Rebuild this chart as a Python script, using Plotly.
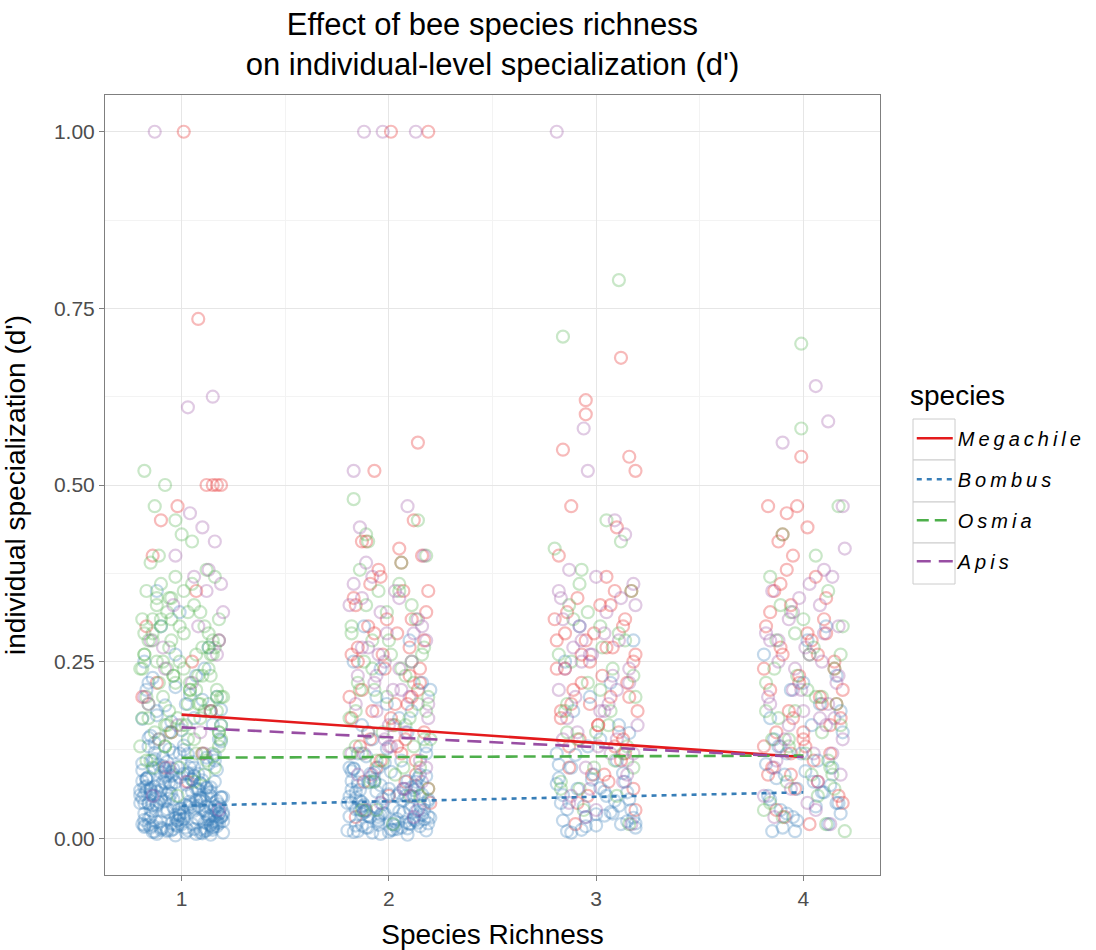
import plotly.graph_objects as go

# ---- jittered observations (x = jittered species richness, y = d') ----
# Megachile
meg_x = [1.01, 1.08, 1.12, 1.15, 1.17, 1.19, 0.98, 0.9, 0.83, 1.05, 0.88, 1.14, 0.95, 1.1, 0.81, 1.18, 0.92, 1.07, 0.86, 1.03,
         2.01, 2.19, 1.93, 2.14, 2.12, 1.87, 2.16, 1.95, 2.07, 1.83, 2.18, 1.9, 2.04, 2.1, 1.85, 1.98, 2.15, 1.81, 2.09, 1.92,
         2.02, 2.17, 1.86, 2.06, 1.94, 2.13, 1.88, 2.0, 2.2, 1.84, 2.05, 1.91, 2.11, 1.97, 2.14, 1.82, 2.08, 1.96, 2.19, 1.89,
         1.96, 2.1, 1.84, 2.03, 2.17, 1.91, 2.06, 1.82, 2.13, 1.99, 1.87, 2.19, 2.01, 1.93, 2.08, 2.15, 1.89, 2.04, 1.85, 2.11,
         3.12, 2.95, 2.95, 2.84, 3.16, 3.19, 2.88, 3.1, 2.82, 3.05, 3.17, 2.91, 2.86, 3.13, 2.99, 2.81, 3.08, 2.93, 3.18, 2.85,
         3.03, 3.15, 2.89, 3.07, 2.97, 3.2, 2.83, 3.01, 3.11, 2.92, 3.14, 2.87, 3.06, 2.96, 3.19, 2.9, 3.02, 2.8, 3.09, 2.98,
         3.05, 2.87, 3.14, 2.93, 3.18, 2.83, 3.09, 2.97, 3.12, 2.85, 3.01, 3.16, 2.91, 3.07, 2.81, 3.13, 2.95, 3.04, 2.88, 3.19,
         3.99, 3.83, 3.97, 3.92, 4.02, 3.88, 3.95, 4.06, 3.86, 3.94, 4.1, 3.82, 4.04, 3.9, 4.15, 3.98, 3.84, 4.08, 3.93, 4.18,
         3.87, 4.01, 4.13, 3.85, 4.07, 3.96, 4.19, 3.91, 4.03, 3.89, 4.11, 3.81, 4.16, 4.0, 3.94,
         4.05, 3.89, 4.13, 3.84, 3.98, 4.17, 3.92, 4.09, 3.81, 4.02, 4.15, 3.87, 3.95, 4.11, 3.83, 4.07, 4.19, 3.9, 4.0, 3.94]
meg_y = [1.0, 0.735, 0.5, 0.5, 0.5, 0.5, 0.47, 0.45, 0.3, 0.25, 0.22, 0.18, 0.15, 0.12, 0.2, 0.28, 0.1, 0.35, 0.4, 0.08,
         1.0, 1.0, 0.52, 0.56, 0.45, 0.42, 0.4, 0.38, 0.35, 0.34, 0.32, 0.3, 0.29, 0.27, 0.25, 0.24, 0.22, 0.2, 0.19, 0.18,
         0.16, 0.15, 0.13, 0.12, 0.1, 0.09, 0.08, 0.06, 0.05, 0.03, 0.41, 0.36, 0.31, 0.26, 0.21, 0.17, 0.14, 0.11, 0.07, 0.04,
         0.37, 0.23, 0.33, 0.19, 0.28, 0.14, 0.39, 0.26, 0.11, 0.31, 0.21, 0.35, 0.17, 0.29, 0.08, 0.24, 0.42, 0.13, 0.27, 0.2,
         0.68, 0.62, 0.6, 0.55, 0.54, 0.52, 0.47, 0.44, 0.4, 0.37, 0.35, 0.34, 0.32, 0.3, 0.29, 0.28, 0.27, 0.26, 0.25, 0.24,
         0.23, 0.22, 0.21, 0.2, 0.19, 0.18, 0.17, 0.16, 0.15, 0.14, 0.12, 0.1, 0.08, 0.06, 0.04, 0.02, 0.33, 0.31, 0.13, 0.09,
         0.27, 0.13, 0.31, 0.22, 0.07, 0.18, 0.35, 0.25, 0.11, 0.29, 0.16, 0.2, 0.05, 0.33, 0.24, 0.14, 0.28, 0.09, 0.19, 0.26,
         0.54, 0.47, 0.47, 0.46, 0.44, 0.42, 0.4, 0.37, 0.35, 0.33, 0.31, 0.3, 0.28, 0.26, 0.25, 0.23, 0.21, 0.2, 0.18, 0.17,
         0.15, 0.13, 0.12, 0.1, 0.08, 0.07, 0.05, 0.03, 0.02, 0.36, 0.29, 0.24, 0.19, 0.14, 0.09,
         0.11, 0.27, 0.16, 0.32, 0.22, 0.06, 0.38, 0.19, 0.13, 0.29, 0.24, 0.04, 0.17, 0.34, 0.09, 0.26, 0.21, 0.43, 0.15, 0.12]

# Bombus
bom_x = [0.93, 1.05, 0.85, 1.15, 0.98, 1.1, 0.82, 1.18, 0.9, 1.02, 1.12, 0.87, 0.96, 1.19, 0.81, 1.07, 0.94, 1.14, 0.84, 1.0,
         0.89, 1.16, 1.03, 0.83, 1.11, 0.97, 0.88, 1.2, 0.92, 1.06, 0.86, 1.13, 0.99, 1.17, 0.91, 1.04, 0.8, 1.09, 0.95, 1.15,
         1.01, 0.84, 1.18, 0.9, 1.08, 0.96, 0.82, 1.12, 1.03, 0.87, 0.94, 1.19, 0.85, 1.06, 1.14, 0.99, 0.81, 1.1, 0.92, 1.16,
         0.88, 1.02, 1.17, 0.83, 0.95, 1.09, 1.2, 0.86, 1.05, 0.93, 0.84, 1.11, 0.97, 1.18, 0.9, 1.07, 0.82, 1.13, 0.99, 0.88,
         1.0, 0.85, 1.14, 0.91, 1.04, 1.19, 0.8, 1.08, 0.96, 1.16,
         1.07, 0.84, 1.16, 0.95, 1.02, 0.88, 1.19, 0.91, 1.11, 0.82, 0.99, 1.14, 0.86, 1.05, 0.93, 1.17, 0.81, 1.09, 0.97, 1.13,
         0.87, 1.01, 0.92, 1.18, 0.84, 1.06, 0.96, 1.12, 0.89, 1.2, 0.83, 1.04, 0.94, 1.15, 0.9, 1.08, 0.98, 0.85, 1.17, 1.03,
         0.92, 1.1, 0.81, 1.14, 0.87, 1.01, 0.95, 1.19, 0.86, 1.07, 0.99, 0.82, 1.12, 0.93, 1.05, 0.88, 1.16, 0.97, 1.09, 0.84,
         1.13, 0.9, 1.02, 0.85, 1.18, 0.96, 1.06, 0.83, 1.11, 0.94, 1.0, 0.88, 1.15, 0.92, 1.04, 0.81, 1.1, 0.97, 1.19, 0.86,
         1.12, 0.95, 1.03, 0.89, 1.17, 0.82, 1.08, 0.99, 0.91, 1.14, 0.85, 1.06, 0.93, 1.2, 0.87, 1.01, 1.16, 0.9, 0.98, 1.09,
         0.97, 1.13, 0.84, 1.06, 0.9, 1.18, 1.01, 0.82, 1.1, 0.94, 1.16, 0.87, 1.03, 1.2, 0.92, 1.08, 0.85, 1.14, 0.99, 0.81,
         1.11, 0.95, 1.05, 0.88, 1.19, 0.83, 1.07, 0.96, 1.15, 0.9, 1.02, 0.86, 1.12, 0.98, 0.8, 1.17, 0.93, 1.04, 1.09, 0.85,
         1.14, 0.91, 0.97, 1.19, 0.83, 1.06, 1.12, 0.88, 1.01, 0.95, 1.17, 0.82, 1.09, 0.99, 0.87, 1.15, 0.93, 1.03, 0.84, 1.11,
         1.85, 2.1, 1.95, 2.17, 1.82, 2.04, 1.9, 2.13, 1.98, 1.87, 2.19, 1.84, 2.07, 1.93, 2.15, 1.81, 2.01, 2.12, 1.89, 1.97,
         2.06, 1.85, 2.18, 1.92, 2.09, 1.96, 2.14, 1.82, 2.03, 1.9, 1.87, 2.11, 1.94, 2.16, 1.83, 2.05, 1.99, 2.2, 1.8, 2.08,
         2.02, 1.86, 2.13, 1.95, 2.18, 1.91, 2.0, 1.88, 2.1, 1.96,
         1.92, 2.08, 1.84, 2.15, 1.97, 1.81, 2.11, 2.02, 1.88, 2.18, 1.95, 2.05, 1.83, 2.13, 1.9, 2.19, 1.86, 2.01, 2.09, 1.94,
         1.82, 2.16, 1.98, 1.87, 2.12, 2.04, 1.93, 1.8, 2.17, 2.07, 1.89, 2.0, 2.14, 1.85, 2.1, 1.96, 1.91, 2.2, 1.84, 2.06,
         1.99, 1.88, 2.12, 2.03, 1.83, 2.15, 1.95, 2.09, 1.87, 2.19,
         2.04, 1.88, 2.16, 1.95, 1.82, 2.11, 2.0, 1.86, 2.19, 1.93, 2.07, 1.84, 2.13, 1.97, 2.09, 1.81, 2.17, 1.91, 2.02, 1.89,
         2.14, 1.96, 1.83, 2.1, 1.87, 2.18, 1.94, 2.05, 1.85, 2.12,
         2.86, 3.12, 2.95, 3.17, 2.83, 3.05, 2.91, 3.14, 2.99, 2.88, 3.19, 2.84, 3.08, 2.94, 3.16, 2.81, 3.02, 3.11, 2.89, 2.97,
         3.07, 2.85, 3.18, 2.92, 3.1, 2.96, 3.15, 2.82, 3.04, 3.0,
         2.93, 3.07, 2.84, 3.15, 2.98, 3.11, 2.88, 3.02, 3.18, 2.82, 3.09, 2.95, 3.13, 2.86, 3.04, 3.19, 2.9, 3.0, 2.81, 3.16,
         3.85, 4.12, 3.95, 4.17, 3.83, 4.05, 3.91, 4.14, 3.99, 3.88, 4.19, 3.84, 4.08, 3.94, 4.16, 3.81, 4.02, 4.11, 3.89, 3.97,
         4.07, 3.86, 4.18, 3.92, 4.1,
         3.9, 4.06, 3.97, 4.13, 3.84, 4.01, 4.18, 3.92, 4.09, 3.96, 3.87, 4.04, 4.16, 3.82, 4.0]
bom_y = [0.01, 0.02, 0.03, 0.015, 0.025, 0.04, 0.05, 0.035, 0.012, 0.008, 0.045, 0.06, 0.055, 0.03, 0.02, 0.07, 0.065, 0.018, 0.028, 0.042,
         0.075, 0.08, 0.09, 0.085, 0.01, 0.033, 0.048, 0.058, 0.095, 0.1, 0.11, 0.105, 0.12, 0.022, 0.038, 0.052, 0.068, 0.078, 0.088, 0.115,
         0.125, 0.13, 0.14, 0.015, 0.027, 0.044, 0.062, 0.072, 0.092, 0.135, 0.15, 0.16, 0.145, 0.17, 0.005, 0.032, 0.057, 0.082, 0.098, 0.118,
         0.18, 0.19, 0.2, 0.21, 0.165, 0.012, 0.036, 0.047, 0.066, 0.108, 0.22, 0.24, 0.26, 0.28, 0.3, 0.23, 0.25, 0.27, 0.32, 0.35,
         0.02, 0.04, 0.06, 0.08, 0.1, 0.03, 0.05, 0.07, 0.09, 0.11,
         0.006, 0.019, 0.031, 0.011, 0.047, 0.023, 0.058, 0.014, 0.039, 0.072, 0.027, 0.066, 0.009, 0.083, 0.041, 0.017, 0.096, 0.053, 0.029, 0.064,
         0.112, 0.036, 0.078, 0.021, 0.049, 0.088, 0.013, 0.061, 0.104, 0.033, 0.074, 0.044, 0.126, 0.016, 0.057, 0.091, 0.025, 0.069, 0.038, 0.119,
         0.052, 0.007, 0.081, 0.043, 0.099, 0.028, 0.063, 0.137, 0.018, 0.054, 0.086, 0.035, 0.071, 0.012, 0.108, 0.046, 0.024, 0.079, 0.059, 0.142,
         0.031, 0.093, 0.015, 0.067, 0.048, 0.121, 0.039, 0.084, 0.022, 0.056, 0.153, 0.174, 0.161, 0.188, 0.203, 0.169, 0.196, 0.214, 0.182, 0.227,
         0.034, 0.076, 0.011, 0.051, 0.097, 0.026, 0.068, 0.042, 0.115, 0.019, 0.062, 0.089, 0.037, 0.008, 0.073, 0.131, 0.045, 0.024, 0.101, 0.057,
         0.004, 0.027, 0.049, 0.013, 0.068, 0.035, 0.091, 0.018, 0.057, 0.079, 0.041, 0.009, 0.063, 0.024, 0.087, 0.046, 0.015, 0.072, 0.033, 0.106,
         0.052, 0.021, 0.083, 0.006, 0.044, 0.067, 0.029, 0.098, 0.012, 0.055, 0.076, 0.038, 0.114, 0.017, 0.061, 0.025, 0.089, 0.048, 0.008, 0.071,
         0.032, 0.102, 0.019, 0.058, 0.084, 0.042, 0.011, 0.066, 0.027, 0.094, 0.053, 0.016, 0.078, 0.036, 0.121, 0.023, 0.062, 0.045, 0.087, 0.014,
         0.01, 0.02, 0.03, 0.04, 0.05, 0.06, 0.015, 0.025, 0.035, 0.045, 0.055, 0.065, 0.07, 0.08, 0.09, 0.1, 0.012, 0.028, 0.038, 0.048,
         0.11, 0.12, 0.13, 0.14, 0.15, 0.075, 0.085, 0.095, 0.018, 0.032, 0.16, 0.18, 0.2, 0.22, 0.25, 0.17, 0.19, 0.21, 0.05, 0.06,
         0.02, 0.04, 0.08, 0.1, 0.12, 0.03, 0.07, 0.3, 0.28, 0.24,
         0.008, 0.023, 0.041, 0.017, 0.056, 0.031, 0.072, 0.012, 0.047, 0.088, 0.026, 0.064, 0.009, 0.038, 0.079, 0.021, 0.053, 0.094, 0.014, 0.044,
         0.069, 0.033, 0.107, 0.018, 0.059, 0.027, 0.083, 0.011, 0.049, 0.036, 0.116, 0.062, 0.022, 0.075, 0.042, 0.006, 0.091, 0.029, 0.057, 0.015,
         0.127, 0.037, 0.068, 0.024, 0.099, 0.046, 0.019, 0.081, 0.034, 0.052,
         0.013, 0.039, 0.062, 0.024, 0.081, 0.047, 0.009, 0.068, 0.031, 0.093, 0.054, 0.018, 0.074, 0.036, 0.005, 0.059, 0.027, 0.086, 0.043, 0.015,
         0.071, 0.033, 0.098, 0.021, 0.051, 0.011, 0.066, 0.038, 0.079, 0.026,
         0.01, 0.02, 0.03, 0.04, 0.05, 0.06, 0.07, 0.08, 0.09, 0.1, 0.015, 0.025, 0.035, 0.045, 0.055, 0.12, 0.14, 0.16, 0.18, 0.2,
         0.22, 0.25, 0.28, 0.3, 0.11, 0.13, 0.065, 0.085, 0.032, 0.018,
         0.012, 0.037, 0.061, 0.024, 0.083, 0.046, 0.008, 0.071, 0.029, 0.104, 0.053, 0.017, 0.092, 0.041, 0.066, 0.021, 0.118, 0.034, 0.077, 0.149,
         0.01, 0.02, 0.03, 0.05, 0.06, 0.08, 0.09, 0.1, 0.12, 0.13, 0.15, 0.17, 0.19, 0.21, 0.23, 0.26, 0.28, 0.3, 0.04, 0.07,
         0.11, 0.14, 0.18, 0.035, 0.065,
         0.015, 0.045, 0.025, 0.075, 0.055, 0.095, 0.035, 0.12, 0.065, 0.01, 0.085, 0.16, 0.05, 0.105, 0.22]

# Osmia
osm_x = [0.86, 1.1, 0.95, 1.17, 0.83, 1.04, 0.91, 1.13, 0.99, 0.88, 1.19, 0.84, 1.07, 0.93, 1.15, 0.81, 1.01, 1.12, 0.89, 0.97,
         1.06, 0.85, 1.18, 0.92, 1.09, 0.96, 1.14, 0.82, 1.03, 0.9, 0.87, 0.92, 0.82, 1.05, 1.16, 0.94, 1.11, 0.98, 1.2, 0.8,
         1.02, 0.86, 1.13, 0.95, 1.08,
         0.92, 1.15, 0.84, 1.06, 1.18, 0.89, 1.01, 1.12, 0.81, 0.97, 1.09, 0.86, 1.17, 0.94, 1.03, 0.83, 1.14, 0.9, 1.07, 0.99,
         0.85, 1.11, 0.95, 1.19, 0.88, 1.04, 0.82, 1.16, 0.93, 1.08, 1.0, 0.87, 1.13, 0.96, 1.05, 0.8, 1.1, 0.91, 1.18, 0.98,
         1.04, 0.89, 1.16, 0.94, 1.09, 0.83, 1.13, 1.0, 0.86, 1.19, 0.92, 1.07, 0.81, 1.11, 0.97, 1.15, 0.88, 1.03, 0.95, 1.18,
         0.84, 1.1, 0.99, 1.14, 0.9, 1.06, 0.82, 1.17, 0.93, 1.01,
         1.83, 2.14, 1.9, 2.18, 1.86, 2.05, 1.95, 2.11, 1.82, 2.0, 2.16, 1.88, 2.08, 1.93, 2.19, 1.84, 2.03, 1.97, 2.12, 1.81,
         2.07, 1.91, 2.15, 1.87, 2.02, 1.99, 2.17, 1.85, 2.1, 1.94, 1.89, 2.06, 2.13, 1.92, 2.2,
         2.03, 1.86, 2.17, 1.92, 2.1, 1.81, 2.06, 1.97, 2.14, 1.89, 2.19, 2.01, 1.84, 2.12, 1.94, 2.08, 1.82, 2.15, 1.99, 2.05,
         1.87, 2.11, 1.93, 2.18, 1.9,
         3.11, 2.84, 3.05, 2.8, 3.12, 2.93, 3.17, 2.87, 3.02, 3.14, 2.82, 3.08, 2.96, 3.19, 2.85, 3.06, 2.91, 3.13, 2.99, 2.83,
         3.1, 2.94, 3.16, 2.89, 3.03, 3.18, 2.86, 3.0, 3.09, 2.92,
         2.88, 3.15, 2.96, 3.07, 2.83, 3.11, 3.02, 3.18, 2.92, 2.86,
         3.99, 3.99, 4.17, 3.9, 4.06, 3.84, 4.12, 3.94, 4.19, 3.87, 4.03, 4.15, 3.82, 4.09, 3.96, 4.18, 3.85, 4.01, 4.13, 3.92,
         4.07, 3.81, 4.11, 4.2, 3.89, 4.05, 3.97, 4.16, 3.93, 4.04,
         4.09, 3.86, 4.15, 3.96, 3.82, 4.12, 4.02, 3.9, 4.18, 3.93, 4.06, 3.84, 4.0, 4.14, 3.88]
osm_y = [0.1, 0.12, 0.15, 0.18, 0.2, 0.22, 0.25, 0.27, 0.3, 0.33, 0.14, 0.17, 0.21, 0.24, 0.28, 0.31, 0.35, 0.38, 0.4, 0.45,
         0.08, 0.11, 0.13, 0.16, 0.19, 0.23, 0.26, 0.29, 0.32, 0.36, 0.47, 0.5, 0.52, 0.42, 0.37, 0.34, 0.09, 0.06, 0.2, 0.24,
         0.16, 0.28, 0.19, 0.31, 0.23,
         0.13, 0.26, 0.19, 0.33, 0.15, 0.22, 0.29, 0.11, 0.24, 0.37, 0.17, 0.31, 0.2, 0.27, 0.14, 0.35, 0.23, 0.3, 0.12, 0.25,
         0.39, 0.18, 0.28, 0.16, 0.34, 0.21, 0.26, 0.1, 0.32, 0.19, 0.43, 0.15, 0.29, 0.23, 0.36, 0.13, 0.27, 0.2, 0.31, 0.17,
         0.21, 0.14, 0.27, 0.18, 0.32, 0.11, 0.24, 0.16, 0.29, 0.2, 0.13, 0.26, 0.17, 0.3, 0.22, 0.12, 0.25, 0.19, 0.34, 0.15,
         0.28, 0.23, 0.1, 0.18, 0.31, 0.14, 0.26, 0.21, 0.16, 0.24,
         0.48, 0.45, 0.42, 0.4, 0.38, 0.36, 0.35, 0.33, 0.3, 0.28, 0.26, 0.25, 0.23, 0.21, 0.2, 0.18, 0.16, 0.15, 0.13, 0.12,
         0.1, 0.08, 0.06, 0.04, 0.02, 0.32, 0.27, 0.22, 0.17, 0.11, 0.43, 0.39, 0.31, 0.24, 0.14,
         0.09, 0.21, 0.14, 0.28, 0.06, 0.17, 0.24, 0.11, 0.19, 0.33, 0.07, 0.26, 0.13, 0.22, 0.04, 0.16, 0.29, 0.1, 0.2, 0.35,
         0.12, 0.25, 0.08, 0.18, 0.15,
         0.79, 0.71, 0.45, 0.41, 0.42, 0.38, 0.35, 0.33, 0.3, 0.28, 0.26, 0.24, 0.22, 0.2, 0.18, 0.16, 0.14, 0.12, 0.1, 0.08,
         0.06, 0.04, 0.02, 0.31, 0.27, 0.23, 0.19, 0.15, 0.11, 0.07,
         0.25, 0.13, 0.32, 0.18, 0.07, 0.29, 0.21, 0.1, 0.36, 0.15,
         0.7, 0.58, 0.47, 0.43, 0.4, 0.37, 0.35, 0.32, 0.3, 0.28, 0.26, 0.24, 0.22, 0.2, 0.18, 0.16, 0.14, 0.12, 0.1, 0.08,
         0.06, 0.04, 0.02, 0.01, 0.33, 0.27, 0.23, 0.19, 0.13, 0.09,
         0.15, 0.24, 0.07, 0.29, 0.18, 0.11, 0.21, 0.03, 0.26, 0.14, 0.2, 0.05, 0.31, 0.09, 0.17]

# Apis
api_x = [0.87, 1.03, 1.15, 1.1, 1.16, 1.13, 1.19, 1.12, 0.96, 1.08, 0.85, 1.17, 0.92, 1.05, 0.82, 1.14, 0.98, 0.89, 1.11, 0.94,
         1.02, 0.86, 1.18, 1.06, 0.97, 1.04, 1.2, 0.84, 0.91, 1.09,
         1.88, 1.97, 2.13, 1.83, 2.09, 1.86, 2.17, 1.92, 2.03, 1.81, 2.14, 1.99, 1.87, 2.11, 1.94, 2.06, 1.84, 2.19, 1.9, 2.01,
         2.15, 1.85, 2.08, 1.96, 2.12, 1.89, 2.05, 2.18, 1.93, 2.0, 1.82, 2.16, 1.95, 2.1, 1.98,
         2.05, 1.88, 2.16, 1.94, 2.11, 1.83, 2.02, 2.18, 1.9, 2.08, 1.96, 2.14, 1.85, 2.0, 2.12, 1.92, 2.19, 1.87, 2.07, 1.98,
         2.81, 2.94, 2.96, 3.09, 3.14, 2.87, 3.18, 2.83, 3.05, 2.92, 3.11, 2.98, 2.85, 3.16, 2.9, 3.02, 3.2, 2.84, 3.07, 2.95,
         3.13, 2.88, 3.0, 3.17, 2.82, 3.04, 2.93, 3.1, 2.86, 3.15, 2.97, 3.19, 2.89, 3.06, 3.01,
         3.08, 2.91, 2.84, 3.15, 2.97, 3.04, 2.87, 3.12, 3.18, 2.93, 2.82, 3.1, 3.0, 2.95, 3.16,
         4.06, 4.12, 3.9, 4.19, 4.2, 4.1, 4.14, 3.85, 4.08, 3.93, 4.17, 3.88, 4.03, 3.96, 4.16, 3.83, 4.0, 4.11, 3.91, 4.05,
         3.87, 4.18, 3.94, 4.02, 3.86, 4.13, 3.98, 3.82, 4.09, 3.95, 4.15, 3.89, 4.07, 4.01, 3.84,
         3.93, 4.1, 3.86, 4.17, 4.03, 3.81, 4.12, 3.95, 4.19, 3.88, 4.06, 3.99, 4.14, 3.84, 4.08]
api_y = [1.0, 0.61, 0.625, 0.44, 0.42, 0.38, 0.36, 0.35, 0.33, 0.3, 0.28, 0.26, 0.24, 0.22, 0.2, 0.18, 0.16, 0.14, 0.12, 0.1,
         0.08, 0.06, 0.04, 0.37, 0.4, 0.46, 0.32, 0.19, 0.27, 0.15,
         1.0, 1.0, 1.0, 0.52, 0.47, 0.44, 0.4, 0.37, 0.35, 0.33, 0.31, 0.29, 0.27, 0.25, 0.23, 0.21, 0.19, 0.17, 0.15, 0.13,
         0.11, 0.09, 0.07, 0.05, 0.03, 0.39, 0.34, 0.28, 0.22, 0.16, 0.12, 0.08, 0.26, 0.2, 0.14,
         0.24, 0.12, 0.3, 0.18, 0.06, 0.36, 0.21, 0.1, 0.27, 0.15, 0.32, 0.04, 0.23, 0.13, 0.29, 0.09, 0.19, 0.34, 0.07, 0.25,
         1.0, 0.58, 0.52, 0.45, 0.43, 0.38, 0.36, 0.34, 0.32, 0.3, 0.28, 0.26, 0.24, 0.22, 0.2, 0.18, 0.16, 0.14, 0.12, 0.1,
         0.08, 0.06, 0.04, 0.02, 0.35, 0.29, 0.25, 0.21, 0.17, 0.11, 0.07, 0.33, 0.27, 0.19, 0.13,
         0.23, 0.15, 0.31, 0.09, 0.26, 0.18, 0.05, 0.34, 0.12, 0.28, 0.21, 0.14, 0.37, 0.03, 0.24,
         0.64, 0.59, 0.56, 0.47, 0.41, 0.38, 0.37, 0.35, 0.33, 0.31, 0.3, 0.28, 0.26, 0.24, 0.22, 0.2, 0.18, 0.16, 0.14, 0.12,
         0.11, 0.09, 0.07, 0.05, 0.03, 0.02, 0.34, 0.29, 0.25, 0.21, 0.17, 0.13, 0.08, 0.27, 0.19,
         0.16, 0.29, 0.1, 0.23, 0.36, 0.06, 0.19, 0.32, 0.14, 0.25, 0.04, 0.21, 0.12, 0.28, 0.17]

# ---- fitted linear trends (richness 1 -> 4) ----
fit_richness = [1, 4]
meg_fit = [0.175, 0.115]
bom_fit = [0.046, 0.065]
osm_fit = [0.114, 0.117]
api_fit = [0.157, 0.115]

species = ["Megachile", "Bombus", "Osmia", "Apis"]
colors = {"Megachile": "#E41A1C", "Bombus": "#377EB8", "Osmia": "#4DAF4A", "Apis": "#984EA3"}
dashes = {"Megachile": "solid", "Bombus": "5px,5px", "Osmia": "12px,6px", "Apis": "14px,8px"}
points = {"Megachile": (meg_x, meg_y), "Bombus": (bom_x, bom_y),
          "Osmia": (osm_x, osm_y), "Apis": (api_x, api_y)}
fits = {"Megachile": meg_fit, "Bombus": bom_fit, "Osmia": osm_fit, "Apis": api_fit}

FONT = "Liberation Sans, Arial, sans-serif"

fig = go.Figure()

# per-point alpha so that overlapping circles build up colour
for sp in species:
    xs, ys = points[sp]
    fig.add_trace(go.Scatter(
        x=xs, y=ys, mode="markers", showlegend=False, legendgroup=sp,
        marker=dict(symbol="circle-open", size=12, color=colors[sp], opacity=0.3,
                    line=dict(width=2.2, color=colors[sp])),
        hoverinfo="skip"))

for sp in species:
    fig.add_trace(go.Scatter(
        x=fit_richness, y=fits[sp], mode="lines",
        name=f'<span style="letter-spacing:4px"><i>{sp}</i></span>',
        legendgroup=sp,
        line=dict(color=colors[sp], width=2.6, dash=dashes[sp])))

axis_common = dict(
    showline=True, linecolor="#7F7F7F", linewidth=1, mirror=True,
    ticks="outside", ticklen=5, tickcolor="#7F7F7F", automargin=False,
    tickfont=dict(family=FONT, size=21, color="#4D4D4D"),
    gridcolor="#E6E6E6", gridwidth=1.2, zeroline=False,
    minor=dict(showgrid=True, gridcolor="#F3F3F3", gridwidth=0.8),
)

# grey key boxes behind the legend samples (one row per species)
key_rows = [419, 460, 502, 543, 584]
key_shapes = []
for top, bottom in zip(key_rows[:-1], key_rows[1:]):
    key_shapes.append(dict(
        type="rect", xref="paper", yref="paper", layer="below",
        x0=(913 - 105) / 775, x1=(955 - 105) / 775,
        y0=(875 - bottom) / 780, y1=(875 - top) / 780,
        line=dict(color="#CCCCCC", width=1), fillcolor="white"))

fig.update_layout(
    width=1096, height=950,
    paper_bgcolor="white", plot_bgcolor="white",
    margin=dict(l=105, r=216, t=95, b=75, autoexpand=False),
    title=dict(
        text="Effect of bee species richness<br>on individual-level specialization (d')",
        xref="paper", x=0.5, xanchor="center", yref="container", y=1 - 35 / 950, yanchor="top",
        font=dict(family=FONT, size=31, color="black")),
    xaxis=dict(axis_common, range=[0.63, 4.37], tickvals=[1, 2, 3, 4],
               ticktext=["1", "2", "3", "4"],
               title=dict(text="Species Richness", standoff=15,
                          font=dict(family=FONT, size=28, color="black"))),
    yaxis=dict(axis_common, range=[-0.052, 1.052],
               tickvals=[0, 0.25, 0.5, 0.75, 1.0], tickformat=".2f",
               title=dict(text="individual specialization (d')", standoff=22,
                          font=dict(family=FONT, size=28, color="black"))),
    legend=dict(
        x=1.041, y=0.585, xanchor="left", yanchor="top",
        font=dict(family=FONT, size=20, color="black"),
        tracegroupgap=12, itemwidth=36, bgcolor="rgba(0,0,0,0)"),
    shapes=key_shapes,
    annotations=[dict(
        text="species", xref="paper", yref="paper",
        x=(908 - 105) / 775, y=(875 - 395) / 780, xanchor="left", yanchor="middle",
        showarrow=False, font=dict(family=FONT, size=28, color="black"))],
)

fig.update_xaxes(minor=dict(tickvals=[1.5, 2.5, 3.5], ticks=""))
fig.update_yaxes(minor=dict(tickvals=[0.125, 0.375, 0.625, 0.875], ticks=""))

fig.write_html("out.html")
